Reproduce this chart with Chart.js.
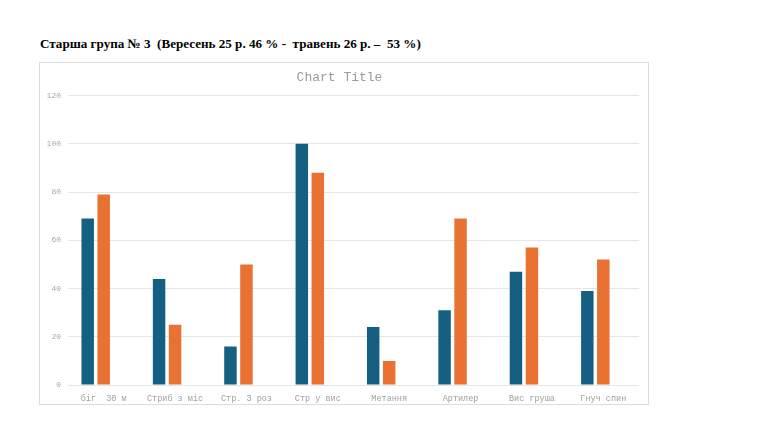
<!DOCTYPE html>
<html>
<head>
<meta charset="utf-8">
<script src="https://cdn.jsdelivr.net/npm/chart.js@4.4.1/dist/chart.umd.min.js"></script>
<style>
  body { margin: 0; background: #fff; }
  #heading {
    position: absolute; left: 40px; top: 36px;
    font-family: "Liberation Serif", serif; font-weight: bold; font-size: 13.1px;
    color: #000; white-space: pre;
  }
  #box {
    position: absolute; left: 39px; top: 62px; width: 608px; height: 341px;
    border: 1px solid #dcdcdc;
  }
</style>
</head>
<body>
<div id="heading">Старша група № 3  (Вересень 25 р. 46 % -  травень 26 р. –  53 %)</div>
<div id="box"><canvas id="chart"></canvas></div>
<script>
// categories (x axis labels)
const categories = ['біг  30 м', 'Стриб з міс', 'Стр. З роз', 'Стр у вис', 'Метання', 'Артилер', 'Вис груша', 'Гнуч спин'];
// September values
const september = [69, 44, 16, 100, 24, 31, 47, 39];
// May values
const may = [79, 25, 50, 88, 10, 69, 57, 52];
// third series is empty in the source sheet but still keeps its slot
const emptySeries = [null, null, null, null, null, null, null, null];
// y axis ticks
const yTicks = [0, 20, 40, 60, 80, 100, 120];

const mono = '"Liberation Mono", "Courier New", monospace';

const ctx = document.getElementById('chart').getContext('2d');
const chart = new Chart(ctx, {
  type: 'bar',
  data: {
    labels: categories,
    datasets: [
      { label: 'Вересень', data: september, backgroundColor: '#156082' },
      { label: 'Травень', data: may, backgroundColor: '#E97132' },
      { label: '', data: emptySeries, backgroundColor: '#196B24' }
    ]
  },
  options: {
    responsive: true,
    maintainAspectRatio: false,
    animation: false,
    categoryPercentage: 0.672,
    barPercentage: 0.78,
    layout: { padding: { left: 0, right: 9, top: 4, bottom: 0 } },
    plugins: {
      legend: { display: false },
      tooltip: { enabled: false },
      title: {
        display: true,
        text: 'Chart Title',
        color: '#9a9a9a',
        font: { family: mono, size: 13, weight: 'normal' },
        padding: { top: 3, bottom: 10 }
      }
    },
    scales: {
      x: {
        grid: { display: false },
        border: { display: false },
        ticks: {
          color: '#a0a0a0',
          font: { family: mono, size: 8.5 },
          maxRotation: 0,
          autoSkip: false,
          padding: 1
        },
        afterFit: s => { s.height = 19; }
      },
      y: {
        min: yTicks[0],
        max: yTicks[yTicks.length - 1],
        afterBuildTicks: s => { s.ticks = yTicks.map(v => ({ value: v })); },
        grid: { color: '#e6e6e6', drawTicks: false },
        border: { display: false },
        ticks: {
          color: '#a8a8a8',
          font: { family: mono, size: 8 },
          padding: 7
        },
        afterFit: s => { s.width = 28; }
      }
    }
  }
});
</script>
</body>
</html>
